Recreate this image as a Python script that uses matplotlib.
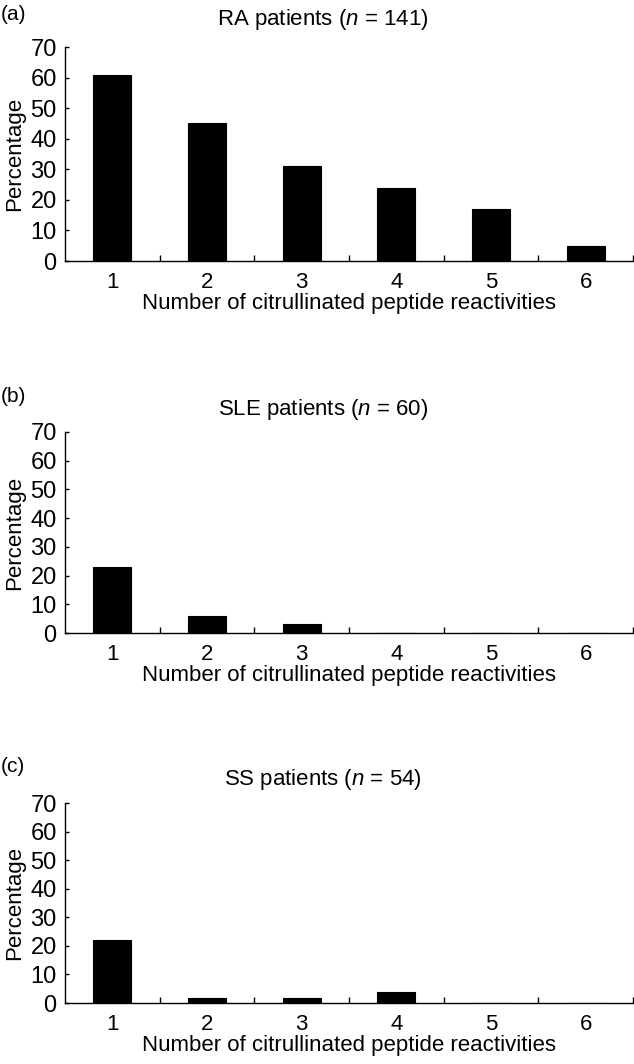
import matplotlib
matplotlib.use("Agg")
import matplotlib.pyplot as plt
import numpy as np

plt.rcParams['font.family'] = ['Liberation Sans', 'DejaVu Sans']
plt.rcParams['mathtext.fontset'] = 'custom'
plt.rcParams['mathtext.rm'] = 'Liberation Sans'
plt.rcParams['mathtext.it'] = 'Liberation Sans:italic'

categories = [1, 2, 3, 4, 5, 6]
ra_values = [61, 45, 31, 24, 17, 5]
sle_values = [23, 6, 3.3, 0, 0, 0]
ss_values = [22.2, 1.9, 1.9, 3.7, 0, 0]
panel_letters = ["(a)", "(b)", "(c)"]
titles = ["RA patients ($\\it{n}$ = 141)", "SLE patients ($\\it{n}$ = 60)", "SS patients ($\\it{n}$ = 54)"]
yticks = [0, 10, 20, 30, 40, 50, 60, 70]
xlabel = "Number of citrullinated peptide reactivities"
ylabel = "Percentage"

W, H = 634, 1064
fig = plt.figure(figsize=(W / 100, H / 100), dpi=100)

# (top px, bottom px) of each axes, label y, title y
layout = [(47, 261, 15, 20), (432, 633, 397, 410), (803, 1003, 767, 780)]
left_px, right_px = 65, 633

for vals, letter, title, (top, bot, ly, ty) in zip(
        [ra_values, sle_values, ss_values], panel_letters, titles, layout):
    ax = fig.add_axes([left_px / W, 1 - bot / H, (right_px - left_px) / W, (bot - top) / H])
    ax.bar(categories, vals, width=0.4, color='black', edgecolor='black', linewidth=0.8)
    ax.set_xlim(0.5, 6.5)
    ax.set_ylim(0, 70)
    ax.set_yticks(yticks)
    ax.set_xticks(categories)
    ax.set_xticks([c + 0.5 for c in categories], minor=True)
    ax.tick_params(axis='x', which='major', length=0, pad=8, labelsize=16)
    ax.tick_params(axis='x', which='minor', direction='in', length=4, width=1)
    ax.tick_params(axis='y', which='major', direction='in', length=3, width=1, pad=6, labelsize=17)
    for s in ['top', 'right']:
        ax.spines[s].set_visible(False)
    for s in ['left', 'bottom']:
        ax.spines[s].set_linewidth(1.0)
    ax.set_xlabel(xlabel, fontsize=16, labelpad=0)
    ax.set_ylabel(ylabel, fontsize=16, labelpad=4)
    fig.text(323 / W, 1 - ty / H, title, ha='center', va='center', fontsize=16)
    fig.text(1 / W, 1 - ly / H, letter, ha='left', va='center', fontsize=15)

fig.savefig("out.png", dpi=100)
